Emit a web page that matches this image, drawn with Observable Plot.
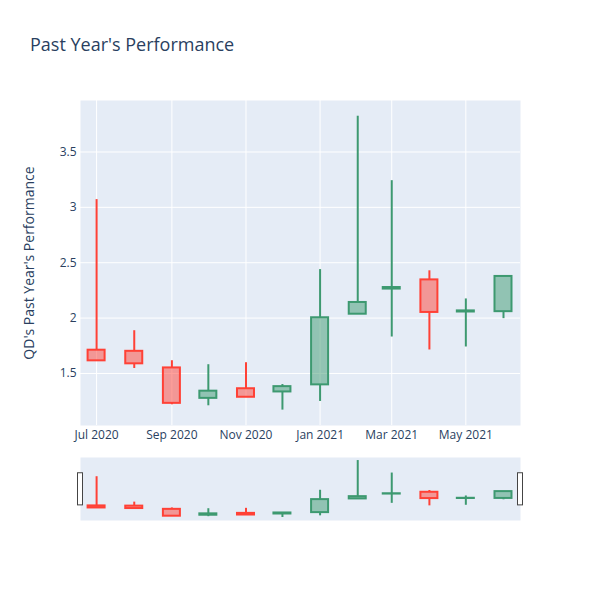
<!DOCTYPE html>
<html>
<head>
<meta charset="utf-8">
<script src="https://cdn.jsdelivr.net/npm/d3@7"></script>
<script src="https://cdn.jsdelivr.net/npm/@observablehq/plot@0.6"></script>
<style>
  html, body { margin: 0; padding: 0; background: #fff; }
  #wrap { position: relative; width: 600px; height: 600px; font-family: "Open Sans", "DejaVu Sans", sans-serif; color: #2a3f5f; }
  #title { position: absolute; left: 30px; top: 31px; font-size: 18px; line-height: 26px; white-space: nowrap; }
  #main { position: absolute; left: 0; top: 0; }
  #slider { position: absolute; left: 0; top: 457px; }
  svg { overflow: visible; }
  #main [aria-label="y-axis label"] text { font-size: 14px; }
</style>
</head>
<body>
<div id="wrap">
  <div id="title">Past Year's Performance</div>
  <div id="main"></div>
  <div id="slider"></div>
</div>
<script>
const months = ["2020-07-01","2020-08-01","2020-09-01","2020-10-01","2020-11-01","2020-12-01",
                "2021-01-01","2021-02-01","2021-03-01","2021-04-01","2021-05-01","2021-06-01"];
const opens  = [1.71, 1.70, 1.55, 1.275, 1.362, 1.333, 1.397, 2.035, 2.262, 2.345, 2.055, 2.058];
const highs  = [3.07, 1.886, 1.615, 1.579, 1.597, 1.40, 2.438, 3.823, 3.241, 2.427, 2.173, 2.376];
const lows   = [1.612, 1.545, 1.217, 1.208, 1.283, 1.169, 1.247, 2.034, 1.829, 1.712, 1.739, 1.995];
const closes = [1.614, 1.587, 1.230, 1.340, 1.285, 1.381, 2.003, 2.141, 2.276, 2.051, 2.065, 2.376];
const yTicks = [1.5, 2, 2.5, 3, 3.5];
const xTickDates = ["2020-07-01","2020-09-01","2020-11-01","2021-01-01","2021-03-01","2021-05-01"];
const xDomain = ["2020-06-17T18:00:00Z", "2021-06-15T00:00:00Z"];
const yDomain = [1.03, 3.965];

const INC = "#3D9970", DEC = "#FF4136";
const data = months.map((m, i) => ({
  date: new Date(m + "T00:00:00Z"),
  open: opens[i], high: highs[i], low: lows[i], close: closes[i]
}));
const col = d => d.close >= d.open ? INC : DEC;
const xTicks = xTickDates.map(s => new Date(s + "T00:00:00Z"));
const xd = xDomain.map(s => new Date(s));

function candleMarks(wickWidth) {
  return [
    Plot.ruleX(data, {x: "date", y1: "low", y2: d => Math.min(d.open, d.close), stroke: col, strokeWidth: wickWidth}),
    Plot.ruleX(data, {x: "date", y1: d => Math.max(d.open, d.close), y2: "high", stroke: col, strokeWidth: wickWidth}),
    Plot.rect(data, {
      x1: d => d3.utcDay.offset(d.date, -7), x2: d => d3.utcDay.offset(d.date, 7),
      y1: "open", y2: "close",
      fill: col, fillOpacity: 0.5, stroke: col, strokeWidth: 2
    })
  ];
}

const main = Plot.plot({
  width: 600, height: 450,
  marginTop: 100, marginBottom: 25, marginLeft: 80, marginRight: 80,
  style: {fontFamily: "'Open Sans', 'DejaVu Sans', sans-serif", fontSize: "12px", color: "#2a3f5f", background: "transparent", overflow: "visible"},
  x: {type: "utc", domain: xd},
  y: {domain: yDomain},
  color: {type: "identity"},
  marks: [
    Plot.frame({fill: "#E5ECF6", stroke: null}),
    Plot.gridY(yTicks, {stroke: "white", strokeOpacity: 1, strokeWidth: 1}),
    Plot.gridX(xTicks, {stroke: "white", strokeOpacity: 1, strokeWidth: 1}),
    Plot.axisY(yTicks, {tickSize: 0, tickPadding: 4, tickFormat: d => String(d),
      label: "QD's Past Year's Performance", labelAnchor: "center", labelArrow: "none", labelOffset: 56}),
    Plot.axisX(xTicks, {tickSize: 0, tickPadding: 5, tickFormat: d3.utcFormat("%b %Y"), label: null}),
    ...candleMarks(2)
  ]
});
document.getElementById("main").appendChild(main);

const slider = Plot.plot({
  width: 600, height: 63,
  marginTop: 0, marginBottom: 0, marginLeft: 80, marginRight: 80,
  style: {background: "transparent", overflow: "visible"},
  x: {type: "utc", domain: xd, axis: null},
  y: {domain: yDomain, axis: null},
  color: {type: "identity"},
  marks: [
    Plot.frame({fill: "#E5ECF6", stroke: null}),
    ...candleMarks(2),
    Plot.rect(xd, {
      x1: d => d, x2: d => d,
      y1: yDomain[0] + 0.24 * (yDomain[1] - yDomain[0]),
      y2: yDomain[0] + 0.75 * (yDomain[1] - yDomain[0]),
      insetLeft: -2.5, insetRight: -2.5,
      fill: "white", stroke: "#444", strokeWidth: 1, clip: false
    })
  ]
});
document.getElementById("slider").appendChild(slider);
</script>
</body>
</html>
